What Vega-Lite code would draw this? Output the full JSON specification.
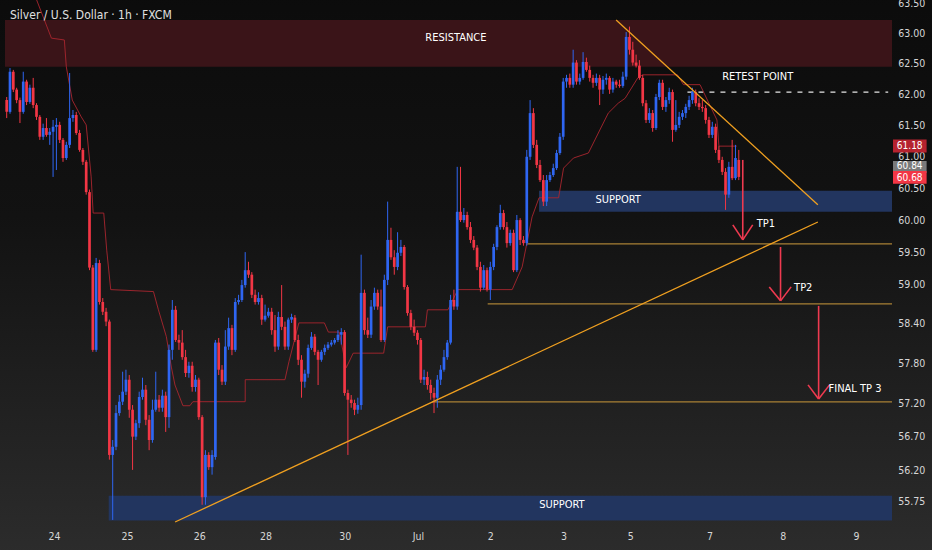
{
  "$schema": "https://vega.github.io/schema/vega-lite/v6.json",
  "description": "Silver / U.S. Dollar 1h candles with resistance, support, trendlines and TP targets.",
  "width": 897,
  "height": 522,
  "autosize": {"type": "none"},
  "padding": {"left": 0, "top": 0, "right": 35, "bottom": 28},
  "background": "#1a1a1a",
  "config": {
    "view": {"stroke": null},
    "font": "'Liberation Sans Narrow', 'DejaVu Sans Condensed', 'Roboto', sans-serif",
    "text": {"font": "'Liberation Sans Narrow', 'DejaVu Sans Condensed', 'Roboto', sans-serif"}
  },
  "datasets": {
    "candles": [
      {"i":0,"o":61.92,"h":61.97,"l":61.63,"c":61.73},
      {"i":1,"o":61.73,"h":62.44,"l":61.70,"c":62.38},
      {"i":2,"o":62.38,"h":62.41,"l":62.05,"c":62.09},
      {"i":3,"o":62.09,"h":62.12,"l":61.87,"c":61.92},
      {"i":4,"o":61.92,"h":61.96,"l":61.55,"c":61.73},
      {"i":5,"o":61.73,"h":62.38,"l":61.70,"c":62.22},
      {"i":6,"o":62.22,"h":62.25,"l":61.84,"c":61.89},
      {"i":7,"o":61.89,"h":62.17,"l":61.86,"c":62.12},
      {"i":8,"o":62.12,"h":62.28,"l":61.79,"c":61.84},
      {"i":9,"o":61.84,"h":61.87,"l":61.60,"c":61.65},
      {"i":10,"o":61.65,"h":61.68,"l":61.28,"c":61.33},
      {"i":11,"o":61.33,"h":61.54,"l":61.28,"c":61.47},
      {"i":12,"o":61.47,"h":61.63,"l":61.33,"c":61.36},
      {"i":13,"o":61.36,"h":61.47,"l":61.20,"c":61.41},
      {"i":14,"o":61.41,"h":61.60,"l":60.69,"c":61.49},
      {"i":15,"o":61.49,"h":61.63,"l":60.80,"c":61.52},
      {"i":16,"o":61.52,"h":61.57,"l":61.23,"c":61.28},
      {"i":17,"o":61.28,"h":61.31,"l":60.93,"c":60.99},
      {"i":18,"o":60.99,"h":61.25,"l":60.96,"c":61.20},
      {"i":19,"o":61.20,"h":62.36,"l":61.15,"c":61.63},
      {"i":20,"o":61.63,"h":61.76,"l":61.57,"c":61.68},
      {"i":21,"o":61.68,"h":61.73,"l":61.36,"c":61.39},
      {"i":22,"o":61.39,"h":61.44,"l":61.09,"c":61.12},
      {"i":23,"o":61.12,"h":61.15,"l":60.88,"c":60.93},
      {"i":24,"o":60.93,"h":60.96,"l":60.41,"c":60.45},
      {"i":25,"o":60.45,"h":60.49,"l":59.23,"c":59.27},
      {"i":26,"o":59.27,"h":59.31,"l":57.98,"c":58.01},
      {"i":27,"o":58.01,"h":59.42,"l":57.98,"c":59.34},
      {"i":28,"o":59.34,"h":59.39,"l":58.70,"c":58.74},
      {"i":29,"o":58.74,"h":58.80,"l":58.54,"c":58.59},
      {"i":30,"o":58.59,"h":58.65,"l":58.37,"c":58.44},
      {"i":31,"o":58.44,"h":58.47,"l":56.37,"c":56.44},
      {"i":32,"o":56.44,"h":56.66,"l":55.49,"c":56.56},
      {"i":33,"o":56.56,"h":57.18,"l":56.51,"c":57.06},
      {"i":34,"o":57.06,"h":57.33,"l":57.02,"c":57.23},
      {"i":35,"o":57.23,"h":57.68,"l":57.18,"c":57.38},
      {"i":36,"o":57.38,"h":57.71,"l":57.33,"c":57.56},
      {"i":37,"o":57.56,"h":57.63,"l":56.99,"c":57.11},
      {"i":38,"o":57.11,"h":57.18,"l":56.22,"c":56.71},
      {"i":39,"o":56.71,"h":56.96,"l":56.66,"c":56.91},
      {"i":40,"o":56.91,"h":57.38,"l":56.84,"c":57.30},
      {"i":41,"o":57.30,"h":57.59,"l":57.26,"c":57.41},
      {"i":42,"o":57.41,"h":57.48,"l":56.88,"c":56.96},
      {"i":43,"o":56.96,"h":57.03,"l":56.51,"c":56.66},
      {"i":44,"o":56.66,"h":57.26,"l":56.62,"c":57.11},
      {"i":45,"o":57.11,"h":57.68,"l":57.08,"c":57.26},
      {"i":46,"o":57.26,"h":57.33,"l":57.08,"c":57.14},
      {"i":47,"o":57.14,"h":57.41,"l":57.08,"c":57.32},
      {"i":48,"o":57.32,"h":57.38,"l":56.78,"c":57.00},
      {"i":49,"o":57.00,"h":58.09,"l":56.84,"c":58.01},
      {"i":50,"o":58.01,"h":58.77,"l":57.86,"c":58.62},
      {"i":51,"o":58.62,"h":58.68,"l":58.13,"c":58.16},
      {"i":52,"o":58.16,"h":58.24,"l":58.01,"c":58.12},
      {"i":53,"o":58.12,"h":58.31,"l":57.86,"c":57.90},
      {"i":54,"o":57.90,"h":58.01,"l":57.60,"c":57.66},
      {"i":55,"o":57.66,"h":57.83,"l":57.59,"c":57.77},
      {"i":56,"o":57.77,"h":57.83,"l":57.38,"c":57.45},
      {"i":57,"o":57.45,"h":57.63,"l":57.38,"c":57.56},
      {"i":58,"o":57.56,"h":57.59,"l":56.96,"c":57.00},
      {"i":59,"o":57.00,"h":57.03,"l":55.71,"c":55.82},
      {"i":60,"o":55.82,"h":56.51,"l":55.71,"c":56.44},
      {"i":61,"o":56.44,"h":56.48,"l":56.22,"c":56.26},
      {"i":62,"o":56.26,"h":56.51,"l":56.15,"c":56.44},
      {"i":63,"o":56.41,"h":58.16,"l":56.37,"c":58.12},
      {"i":64,"o":58.12,"h":58.19,"l":57.63,"c":57.71},
      {"i":65,"o":57.71,"h":57.78,"l":57.48,"c":57.53},
      {"i":66,"o":57.53,"h":58.31,"l":57.48,"c":58.06},
      {"i":67,"o":58.06,"h":58.50,"l":58.01,"c":58.34},
      {"i":68,"o":58.34,"h":58.39,"l":57.93,"c":58.01},
      {"i":69,"o":58.01,"h":58.80,"l":57.98,"c":58.74},
      {"i":70,"o":58.74,"h":58.85,"l":58.70,"c":58.77},
      {"i":71,"o":58.77,"h":59.08,"l":58.74,"c":59.00},
      {"i":72,"o":59.00,"h":59.51,"l":58.96,"c":59.23},
      {"i":73,"o":59.23,"h":59.36,"l":59.11,"c":59.16},
      {"i":74,"o":59.16,"h":59.20,"l":58.80,"c":58.85},
      {"i":75,"o":58.85,"h":58.93,"l":58.70,"c":58.74},
      {"i":76,"o":58.74,"h":58.89,"l":58.70,"c":58.80},
      {"i":77,"o":58.80,"h":58.85,"l":58.39,"c":58.47},
      {"i":78,"o":58.47,"h":58.70,"l":58.44,"c":58.53},
      {"i":79,"o":58.53,"h":58.65,"l":58.50,"c":58.59},
      {"i":80,"o":58.59,"h":58.65,"l":58.24,"c":58.31},
      {"i":81,"o":58.31,"h":58.54,"l":57.98,"c":58.06},
      {"i":82,"o":58.06,"h":58.59,"l":58.01,"c":58.51},
      {"i":83,"o":58.51,"h":59.00,"l":58.31,"c":58.36},
      {"i":84,"o":58.36,"h":58.44,"l":58.01,"c":58.06},
      {"i":85,"o":58.06,"h":58.50,"l":58.01,"c":58.47},
      {"i":86,"o":58.47,"h":58.56,"l":58.42,"c":58.51},
      {"i":87,"o":58.50,"h":58.54,"l":58.13,"c":58.16},
      {"i":88,"o":58.16,"h":58.24,"l":57.78,"c":57.86},
      {"i":89,"o":57.86,"h":57.93,"l":57.29,"c":57.53},
      {"i":90,"o":57.53,"h":57.71,"l":57.44,"c":57.65},
      {"i":91,"o":57.65,"h":58.09,"l":57.59,"c":58.04},
      {"i":92,"o":58.04,"h":58.28,"l":58.01,"c":58.21},
      {"i":93,"o":58.21,"h":58.25,"l":57.93,"c":57.98},
      {"i":94,"o":57.98,"h":58.01,"l":57.48,"c":57.86},
      {"i":95,"o":57.86,"h":58.01,"l":57.83,"c":57.98},
      {"i":96,"o":57.98,"h":58.09,"l":57.93,"c":58.04},
      {"i":97,"o":58.04,"h":58.13,"l":58.01,"c":58.09},
      {"i":98,"o":58.09,"h":58.16,"l":58.06,"c":58.12},
      {"i":99,"o":58.12,"h":58.19,"l":58.09,"c":58.16},
      {"i":100,"o":58.16,"h":58.31,"l":58.13,"c":58.24},
      {"i":101,"o":58.24,"h":58.34,"l":58.09,"c":58.28},
      {"i":102,"o":58.28,"h":58.31,"l":57.32,"c":57.36},
      {"i":103,"o":57.36,"h":57.41,"l":56.44,"c":57.26},
      {"i":104,"o":57.26,"h":57.33,"l":57.14,"c":57.21},
      {"i":105,"o":57.21,"h":57.26,"l":57.03,"c":57.11},
      {"i":106,"o":57.11,"h":57.29,"l":57.05,"c":57.18},
      {"i":107,"o":57.18,"h":59.47,"l":57.11,"c":58.88},
      {"i":108,"o":58.88,"h":58.93,"l":58.24,"c":58.31},
      {"i":109,"o":58.31,"h":58.50,"l":58.19,"c":58.24},
      {"i":110,"o":58.24,"h":58.77,"l":58.19,"c":58.67},
      {"i":111,"o":58.67,"h":58.96,"l":58.62,"c":58.88},
      {"i":112,"o":58.88,"h":58.93,"l":58.62,"c":58.67},
      {"i":113,"o":58.67,"h":58.93,"l":58.13,"c":58.16},
      {"i":114,"o":58.16,"h":59.16,"l":58.13,"c":59.08},
      {"i":115,"o":59.08,"h":60.30,"l":59.00,"c":59.70},
      {"i":116,"o":59.70,"h":59.89,"l":59.39,"c":59.43},
      {"i":117,"o":59.43,"h":59.54,"l":59.16,"c":59.28},
      {"i":118,"o":59.28,"h":59.82,"l":59.23,"c":59.50},
      {"i":119,"o":59.50,"h":59.70,"l":59.45,"c":59.59},
      {"i":120,"o":59.59,"h":59.62,"l":58.93,"c":58.97},
      {"i":121,"o":58.97,"h":59.00,"l":58.53,"c":58.57},
      {"i":122,"o":58.57,"h":58.62,"l":58.31,"c":58.36},
      {"i":123,"o":58.36,"h":58.47,"l":58.22,"c":58.27},
      {"i":124,"o":58.27,"h":58.31,"l":58.09,"c":58.16},
      {"i":125,"o":58.16,"h":58.19,"l":57.51,"c":57.56},
      {"i":126,"o":57.56,"h":57.71,"l":57.48,"c":57.60},
      {"i":127,"o":57.60,"h":57.68,"l":57.41,"c":57.48},
      {"i":128,"o":57.48,"h":57.56,"l":57.26,"c":57.36},
      {"i":129,"o":57.36,"h":57.44,"l":57.06,"c":57.29},
      {"i":130,"o":57.29,"h":57.63,"l":57.14,"c":57.56},
      {"i":131,"o":57.56,"h":57.78,"l":57.48,"c":57.71},
      {"i":132,"o":57.71,"h":58.01,"l":57.68,"c":57.90},
      {"i":133,"o":57.90,"h":58.16,"l":57.86,"c":58.12},
      {"i":134,"o":58.12,"h":58.85,"l":58.09,"c":58.77},
      {"i":135,"o":58.77,"h":58.93,"l":58.62,"c":58.67},
      {"i":136,"o":58.67,"h":60.85,"l":58.62,"c":60.14},
      {"i":137,"o":60.14,"h":60.85,"l":59.98,"c":60.01},
      {"i":138,"o":60.01,"h":60.20,"l":59.97,"c":60.09},
      {"i":139,"o":60.09,"h":60.14,"l":59.86,"c":59.90},
      {"i":140,"o":59.90,"h":59.98,"l":59.65,"c":59.70},
      {"i":141,"o":59.70,"h":59.76,"l":59.54,"c":59.58},
      {"i":142,"o":59.58,"h":59.62,"l":59.23,"c":59.28},
      {"i":143,"o":59.28,"h":59.36,"l":58.90,"c":58.96},
      {"i":144,"o":58.96,"h":59.31,"l":58.93,"c":59.23},
      {"i":145,"o":59.23,"h":59.27,"l":58.90,"c":58.93},
      {"i":146,"o":58.93,"h":59.36,"l":58.77,"c":59.28},
      {"i":147,"o":59.28,"h":59.64,"l":59.23,"c":59.59},
      {"i":148,"o":59.59,"h":59.93,"l":59.54,"c":59.90},
      {"i":149,"o":59.90,"h":60.25,"l":59.86,"c":60.12},
      {"i":150,"o":60.12,"h":60.17,"l":59.86,"c":59.90},
      {"i":151,"o":59.90,"h":59.98,"l":59.58,"c":59.65},
      {"i":152,"o":59.65,"h":59.86,"l":59.61,"c":59.81},
      {"i":153,"o":59.81,"h":59.86,"l":59.20,"c":59.23},
      {"i":154,"o":59.23,"h":60.09,"l":59.20,"c":60.01},
      {"i":155,"o":60.01,"h":60.04,"l":59.62,"c":59.70},
      {"i":156,"o":59.70,"h":59.76,"l":59.61,"c":59.65},
      {"i":157,"o":59.65,"h":61.12,"l":59.61,"c":61.01},
      {"i":158,"o":61.01,"h":61.92,"l":60.96,"c":61.71},
      {"i":159,"o":61.71,"h":61.79,"l":61.15,"c":61.20},
      {"i":160,"o":61.20,"h":61.28,"l":60.83,"c":60.88},
      {"i":161,"o":60.88,"h":60.96,"l":60.61,"c":60.64},
      {"i":162,"o":60.64,"h":60.72,"l":60.23,"c":60.30},
      {"i":163,"o":60.30,"h":60.72,"l":60.23,"c":60.64},
      {"i":164,"o":60.64,"h":60.77,"l":60.61,"c":60.72},
      {"i":165,"o":60.72,"h":60.90,"l":60.69,"c":60.83},
      {"i":166,"o":60.83,"h":61.12,"l":60.80,"c":61.07},
      {"i":167,"o":61.07,"h":61.39,"l":61.04,"c":61.33},
      {"i":168,"o":61.33,"h":62.28,"l":61.28,"c":62.22},
      {"i":169,"o":62.22,"h":62.33,"l":62.12,"c":62.28},
      {"i":170,"o":62.28,"h":62.35,"l":62.12,"c":62.17},
      {"i":171,"o":62.17,"h":62.74,"l":62.12,"c":62.53},
      {"i":172,"o":62.53,"h":62.57,"l":62.17,"c":62.22},
      {"i":173,"o":62.22,"h":62.35,"l":62.17,"c":62.28},
      {"i":174,"o":62.28,"h":62.70,"l":62.25,"c":62.54},
      {"i":175,"o":62.54,"h":62.61,"l":62.38,"c":62.41},
      {"i":176,"o":62.41,"h":62.48,"l":62.22,"c":62.28},
      {"i":177,"o":62.28,"h":62.33,"l":62.12,"c":62.20},
      {"i":178,"o":62.20,"h":62.35,"l":62.15,"c":62.28},
      {"i":179,"o":62.28,"h":62.33,"l":61.84,"c":62.09},
      {"i":180,"o":62.09,"h":62.31,"l":62.02,"c":62.25},
      {"i":181,"o":62.25,"h":62.35,"l":62.17,"c":62.28},
      {"i":182,"o":62.28,"h":62.31,"l":62.02,"c":62.09},
      {"i":183,"o":62.09,"h":62.28,"l":62.04,"c":62.22},
      {"i":184,"o":62.22,"h":62.25,"l":62.12,"c":62.17},
      {"i":185,"o":62.17,"h":62.25,"l":62.12,"c":62.15},
      {"i":186,"o":62.15,"h":62.38,"l":62.12,"c":62.30},
      {"i":187,"o":62.30,"h":63.03,"l":62.25,"c":62.95},
      {"i":188,"o":62.95,"h":63.12,"l":62.66,"c":62.74},
      {"i":189,"o":62.74,"h":62.87,"l":62.48,"c":62.53},
      {"i":190,"o":62.53,"h":62.66,"l":62.45,"c":62.48},
      {"i":191,"o":62.48,"h":62.57,"l":62.25,"c":62.28},
      {"i":192,"o":62.28,"h":62.33,"l":61.82,"c":61.87},
      {"i":193,"o":61.87,"h":61.92,"l":61.55,"c":61.60},
      {"i":194,"o":61.60,"h":61.79,"l":61.55,"c":61.71},
      {"i":195,"o":61.71,"h":61.76,"l":61.41,"c":61.47},
      {"i":196,"o":61.47,"h":62.02,"l":61.44,"c":61.97},
      {"i":197,"o":61.97,"h":62.25,"l":61.92,"c":62.20},
      {"i":198,"o":62.20,"h":62.25,"l":61.76,"c":61.81},
      {"i":199,"o":61.81,"h":61.97,"l":61.73,"c":61.92},
      {"i":200,"o":61.92,"h":62.12,"l":61.86,"c":62.05},
      {"i":201,"o":62.05,"h":62.09,"l":61.25,"c":61.44},
      {"i":202,"o":61.44,"h":61.92,"l":61.41,"c":61.52},
      {"i":203,"o":61.52,"h":61.73,"l":61.47,"c":61.65},
      {"i":204,"o":61.65,"h":61.76,"l":61.60,"c":61.71},
      {"i":205,"o":61.71,"h":61.86,"l":61.63,"c":61.81},
      {"i":206,"o":61.81,"h":61.99,"l":61.76,"c":61.92},
      {"i":207,"o":61.92,"h":62.12,"l":61.86,"c":62.05},
      {"i":208,"o":62.05,"h":62.09,"l":61.82,"c":61.87},
      {"i":209,"o":61.87,"h":61.95,"l":61.76,"c":61.81},
      {"i":210,"o":61.81,"h":61.92,"l":61.73,"c":61.79},
      {"i":211,"o":61.79,"h":61.84,"l":61.54,"c":61.60},
      {"i":212,"o":61.60,"h":61.65,"l":61.31,"c":61.36},
      {"i":213,"o":61.36,"h":61.57,"l":61.31,"c":61.49},
      {"i":214,"o":61.49,"h":61.54,"l":61.07,"c":61.12},
      {"i":215,"o":61.12,"h":61.18,"l":60.91,"c":60.96},
      {"i":216,"o":60.96,"h":61.01,"l":60.72,"c":60.77},
      {"i":217,"o":60.77,"h":60.83,"l":60.17,"c":60.41},
      {"i":218,"o":60.41,"h":60.93,"l":60.36,"c":60.85},
      {"i":219,"o":60.85,"h":61.28,"l":60.64,"c":60.67},
      {"i":220,"o":60.67,"h":61.20,"l":60.64,"c":60.99},
      {"i":221,"o":60.96,"h":61.12,"l":60.64,"c":60.69}
    ],
    "trail": [
      {"i":9.05,"p":63.56},{"i":13.5,"p":62.93},{"i":17.4,"p":62.90},{"i":18.0,"p":62.46},
      {"i":19.8,"p":61.92},{"i":22.5,"p":61.65},{"i":24.0,"p":61.52},{"i":25.5,"p":60.69},
      {"i":26.1,"p":60.12},{"i":29.3,"p":60.12},{"i":30.2,"p":59.54},{"i":31.4,"p":58.93},
      {"i":44.3,"p":58.90},{"i":45.8,"p":58.62},{"i":48.2,"p":58.21},{"i":49.7,"p":57.75},
      {"i":50.8,"p":57.48},{"i":53.2,"p":57.17},{"i":55.3,"p":57.17},{"i":56.2,"p":57.23},
      {"i":72.0,"p":57.23},{"i":72.01,"p":57.56},{"i":84.0,"p":57.56},{"i":85.2,"p":57.83},
      {"i":88.2,"p":58.42},{"i":95.9,"p":58.42},{"i":97.1,"p":58.28},{"i":100.4,"p":58.28},
      {"i":102.5,"p":57.74},{"i":104.6,"p":57.96},{"i":113.8,"p":57.96},{"i":115.0,"p":58.36},
      {"i":126.4,"p":58.36},{"i":127.0,"p":58.62},{"i":133.2,"p":58.62},{"i":136.2,"p":58.93},
      {"i":152.6,"p":58.93},{"i":155.6,"p":59.28},{"i":158.6,"p":60.06},{"i":160.7,"p":60.36},
      {"i":166.6,"p":60.36},{"i":168.1,"p":60.83},{"i":171.1,"p":60.99},{"i":175.6,"p":61.07},
      {"i":178.6,"p":61.39},{"i":181.6,"p":61.71},{"i":184.6,"p":61.87},{"i":186.7,"p":61.95},
      {"i":190.5,"p":62.28},{"i":192.0,"p":62.33},{"i":202.5,"p":62.33},{"i":204.3,"p":62.17},
      {"i":209.3,"p":62.17},{"i":214.4,"p":61.60},{"i":215.0,"p":61.18},{"i":220.4,"p":61.18}
    ],
    "resistance": [{"x":-0.51,"x2":267.25,"y":63.23,"y2":62.46}],
    "support": [
      {"x":160.7,"x2":267.25,"y":60.47,"y2":60.14},
      {"x":30.8,"x2":267.25,"y":55.84,"y2":55.48}
    ],
    "targets": [
      {"x":157.1,"x2":267.25,"y":59.638},
      {"x":145.2,"x2":267.25,"y":58.71},
      {"x":128.4,"x2":267.25,"y":57.227}
    ],
    "retest": [{"x":205.5,"x2":266.1,"y":62.05}],
    "trendlines": [
      {"x":183.97,"y":63.23,"x2":244.87,"y2":60.25},
      {"x":50.84,"y":55.46,"x2":244.87,"y2":59.98}
    ],
    "arrows": [
      {"x":222.2,"y":60.96,"x2":222.2,"y2":59.70},
      {"x":219.2,"y":59.935,"x2":222.2,"y2":59.70},
      {"x":225.2,"y":59.935,"x2":222.2,"y2":59.70},
      {"x":233.6,"y":59.59,"x2":233.6,"y2":58.757},
      {"x":230.2,"y":58.972,"x2":233.6,"y2":58.757},
      {"x":236.8,"y":58.972,"x2":233.6,"y2":58.757},
      {"x":245.1,"y":58.68,"x2":245.1,"y2":57.272},
      {"x":241.9,"y":57.482,"x2":245.1,"y2":57.272},
      {"x":248.4,"y":57.482,"x2":245.1,"y2":57.272}
    ],
    "centerLabels": [
      {"x":135.6,"y":62.93,"text":"RESISTANCE"},
      {"x":226.7,"y":62.30,"text":"RETEST POINT"},
      {"x":184.6,"y":60.33,"text":"SUPPORT"},
      {"x":167.6,"y":55.70,"text":"SUPPORT"}
    ],
    "leftLabels": [
      {"x":226.4,"y":59.95,"text":"TP1"},
      {"x":237.7,"y":58.96,"text":"TP2"},
      {"x":248.1,"y":57.42,"text":"FINAL TP 3"}
    ],
    "priceTicks": [
      {"p":63.5,"t":"63.50"},{"p":63.0,"t":"63.00"},{"p":62.5,"t":"62.50"},{"p":62.0,"t":"62.00"},
      {"p":61.5,"t":"61.50"},{"p":61.0,"t":"61.00"},{"p":60.5,"t":"60.50"},{"p":60.0,"t":"60.00"},
      {"p":59.5,"t":"59.50"},{"p":59.0,"t":"59.00"},{"p":58.4,"t":"58.40"},{"p":57.8,"t":"57.80"},
      {"p":57.2,"t":"57.20"},{"p":56.7,"t":"56.70"},{"p":56.2,"t":"56.20"},{"p":55.75,"t":"55.75"}
    ],
    "dayTicks": [
      {"i":14.4,"t":"24"},{"i":36.5,"t":"25"},{"i":58.3,"t":"26"},{"i":78.3,"t":"28"},
      {"i":102.2,"t":"30"},{"i":124.3,"t":"Jul"},{"i":146.1,"t":"2"},{"i":168.2,"t":"3"},
      {"i":188.4,"t":"5"},{"i":212.3,"t":"7"},{"i":234.4,"t":"8"},{"i":256.5,"t":"9"}
    ],
    "priceTags": [
      {"label":"61.18","p":61.18,"top":61.287,"bottom":61.08},
      {"label":"60.84","p":60.86,"top":60.944,"bottom":60.753},
      {"label":"60.68","p":60.68,"top":60.785,"bottom":60.58}
    ]
  },
  "layer": [
    {
      "data": {"values": [{}]},
      "mark": {"type": "rect", "color": {"gradient": "linear", "x1": 0, "y1": 0, "x2": 0, "y2": 1, "stops": [{"offset": 0, "color": "#0b0b0b"}, {"offset": 0.4, "color": "#121212"}, {"offset": 1, "color": "#2e2e2e"}]}},
      "encoding": {
        "x": {"datum": -3, "type": "quantitative", "scale": {"domain": [-0.51, 267.25], "nice": false, "zero": false}, "axis": null},
        "x2": {"datum": 280},
        "y": {"datum": 64, "type": "quantitative", "scale": {"type": "log", "domain": [55.46, 63.56], "nice": false}, "axis": null},
        "y2": {"datum": 54.6}
      }
    },
    {
      "data": {"name": "resistance"},
      "mark": {"type": "rect", "color": "#3a1418"},
      "encoding": {
        "x": {"field": "x", "type": "quantitative", "axis": null}, "x2": {"field": "x2"},
        "y": {"field": "y", "type": "quantitative", "axis": null}, "y2": {"field": "y2"}
      }
    },
    {
      "data": {"name": "support"},
      "mark": {"type": "rect", "color": "#22355f"},
      "encoding": {
        "x": {"field": "x", "type": "quantitative", "axis": null}, "x2": {"field": "x2"},
        "y": {"field": "y", "type": "quantitative", "axis": null}, "y2": {"field": "y2"}
      }
    },
    {
      "mark": {"type": "rule", "color": "#9b2a30", "strokeWidth": 1, "strokeDash": [1, 2]},
      "encoding": {"y": {"datum": 60.68, "type": "quantitative", "axis": null}}
    },
    {
      "data": {"name": "targets"},
      "mark": {"type": "rule", "color": "#a88035", "strokeWidth": 1.3},
      "encoding": {
        "x": {"field": "x", "type": "quantitative", "axis": null}, "x2": {"field": "x2"},
        "y": {"field": "y", "type": "quantitative", "axis": null}
      }
    },
    {
      "data": {"name": "retest"},
      "mark": {"type": "rule", "color": "#e6e6e6", "strokeWidth": 1.3, "strokeDash": [5, 6]},
      "encoding": {
        "x": {"field": "x", "type": "quantitative", "axis": null}, "x2": {"field": "x2"},
        "y": {"field": "y", "type": "quantitative", "axis": null}
      }
    },
    {
      "data": {"name": "trail"},
      "mark": {"type": "line", "color": "#a8262f", "strokeWidth": 1, "opacity": 0.9},
      "encoding": {
        "x": {"field": "i", "type": "quantitative", "axis": null},
        "y": {"field": "p", "type": "quantitative", "axis": null},
        "order": {"field": "i"}
      }
    },
    {
      "data": {"name": "candles"},
      "mark": {"type": "rule", "strokeWidth": 1},
      "encoding": {
        "x": {"field": "i", "type": "quantitative", "axis": null},
        "y": {"field": "l", "type": "quantitative", "axis": null},
        "y2": {"field": "h"},
        "color": {"condition": {"test": "datum.c < datum.o", "value": "#f23645"}, "value": "#2f66f2"}
      }
    },
    {
      "data": {"name": "candles"},
      "mark": {"type": "bar", "width": 2.7},
      "encoding": {
        "x": {"field": "i", "type": "quantitative", "axis": null},
        "y": {"field": "o", "type": "quantitative", "axis": null},
        "y2": {"field": "c"},
        "color": {"condition": {"test": "datum.c < datum.o", "value": "#f23645"}, "value": "#2f66f2"}
      }
    },
    {
      "data": {"name": "trendlines"},
      "mark": {"type": "rule", "color": "#f0a020", "strokeWidth": 1.3},
      "encoding": {
        "x": {"field": "x", "type": "quantitative", "axis": null}, "x2": {"field": "x2"},
        "y": {"field": "y", "type": "quantitative", "axis": null}, "y2": {"field": "y2"}
      }
    },
    {
      "data": {"name": "arrows"},
      "mark": {"type": "rule", "color": "#ef3a50", "strokeWidth": 1.6},
      "encoding": {
        "x": {"field": "x", "type": "quantitative", "axis": null}, "x2": {"field": "x2"},
        "y": {"field": "y", "type": "quantitative", "axis": null}, "y2": {"field": "y2"}
      }
    },
    {
      "data": {"name": "centerLabels"},
      "mark": {"type": "text", "color": "#ffffff", "fontSize": 11, "align": "center", "baseline": "middle"},
      "encoding": {
        "x": {"field": "x", "type": "quantitative", "axis": null},
        "y": {"field": "y", "type": "quantitative", "axis": null},
        "text": {"field": "text"}
      }
    },
    {
      "data": {"name": "leftLabels"},
      "mark": {"type": "text", "color": "#ffffff", "fontSize": 11, "align": "left", "baseline": "middle"},
      "encoding": {
        "x": {"field": "x", "type": "quantitative", "axis": null},
        "y": {"field": "y", "type": "quantitative", "axis": null},
        "text": {"field": "text"}
      }
    },
    {
      "data": {"values": [{"x": 1.0, "y": 63.31, "text": "Silver / U.S. Dollar · 1h · FXCM"}]},
      "mark": {"type": "text", "color": "#e0e0e0", "fontSize": 12, "align": "left", "baseline": "middle"},
      "encoding": {
        "x": {"field": "x", "type": "quantitative", "axis": null},
        "y": {"field": "y", "type": "quantitative", "axis": null},
        "text": {"field": "text"}
      }
    },
    {
      "data": {"name": "priceTicks"},
      "mark": {"type": "text", "color": "#d6d6d6", "fontSize": 10.5, "align": "left", "baseline": "middle"},
      "encoding": {
        "x": {"datum": 269.1, "type": "quantitative", "axis": null},
        "y": {"field": "p", "type": "quantitative", "axis": null},
        "text": {"field": "t"}
      }
    },
    {
      "data": {"name": "dayTicks"},
      "mark": {"type": "text", "color": "#d6d6d6", "fontSize": 10.5, "align": "center", "baseline": "middle"},
      "encoding": {
        "x": {"field": "i", "type": "quantitative", "axis": null},
        "y": {"datum": 55.24, "type": "quantitative", "axis": null},
        "text": {"field": "t"}
      }
    },
    {
      "data": {"name": "priceTags"},
      "mark": {"type": "rect"},
      "encoding": {
        "x": {"datum": 267.55, "type": "quantitative", "axis": null},
        "x2": {"datum": 277.7},
        "y": {"field": "top", "type": "quantitative", "axis": null},
        "y2": {"field": "bottom"},
        "color": {"field": "label", "type": "nominal", "legend": null, "scale": {"domain": ["61.18", "60.84", "60.68"], "range": ["#b5222f", "#7a7a7a", "#f23645"]}}
      }
    },
    {
      "data": {"name": "priceTags"},
      "mark": {"type": "text", "color": "#ffffff", "fontSize": 10, "align": "center", "baseline": "middle"},
      "encoding": {
        "x": {"datum": 272.6, "type": "quantitative", "axis": null},
        "y": {"field": "p", "type": "quantitative", "axis": null},
        "text": {"field": "label"}
      }
    }
  ]
}
